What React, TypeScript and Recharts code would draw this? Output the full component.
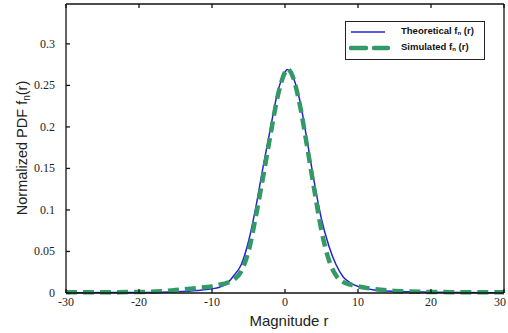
import React from 'react';
import { LineChart, Line, XAxis, YAxis } from 'recharts';

// magnitude r samples and the two PDF curves
const R = [-30, -25, -20, -17, -15, -12, -10, -9, -8, -7, -6, -5, -4, -3, -2, -1, 0, 0.3, 1, 2, 3, 4, 5, 6, 7, 8, 9, 10, 12, 15, 20, 25, 30];
const THEORETICAL = [0.0004, 0.0005, 0.0007, 0.001, 0.0015, 0.003, 0.005, 0.007, 0.011, 0.021, 0.034, 0.062, 0.103, 0.152, 0.198, 0.242, 0.266, 0.269, 0.262, 0.233, 0.185, 0.134, 0.089, 0.057, 0.034, 0.019, 0.012, 0.008, 0.004, 0.002, 0.001, 0.0005, 0.0004];
const SIMULATED = [0.001, 0.001, 0.0012, 0.002, 0.0035, 0.006, 0.008, 0.010, 0.012, 0.016, 0.026, 0.05, 0.092, 0.140, 0.190, 0.237, 0.266, 0.27, 0.262, 0.228, 0.178, 0.125, 0.075, 0.040, 0.021, 0.013, 0.010, 0.008, 0.005, 0.0025, 0.0012, 0.001, 0.001];

const X_TICKS = [-30, -20, -10, 0, 10, 20, 30];
const Y_TICKS = [0, 0.05, 0.1, 0.15, 0.2, 0.25, 0.3];

const BLUE = '#2323d8';
const GREEN = '#339966';

const data = R.map((r, i) => ({ r, theo: THEORETICAL[i], sim: SIMULATED[i], frame: null }));

const SERIF = '"Liberation Serif", "Times New Roman", serif';
const SANS = '"Liberation Sans", Arial, sans-serif';

const XTick = (props: any) => {
  const { x, y, payload } = props;
  return (
    <text x={x} y={y} dy={9} textAnchor="middle" fontFamily={SERIF} fontSize={12} fill="#222">
      {payload.value}
    </text>
  );
};

const YTick = (props: any) => {
  const { x, y, payload } = props;
  return (
    <text x={x} y={y} dy={4} textAnchor="end" fontFamily={SERIF} fontSize={12} fill="#222">
      {payload.value}
    </text>
  );
};

const noLabel = () => <g />;

const sub = { fontSize: 6, verticalAlign: 'baseline', position: 'relative' as const, top: 1 };

const LegendBox = () => (
  <div
    style={{
      position: 'absolute',
      left: 345,
      top: 21,
      width: 140,
      height: 39,
      border: '1px solid #222',
      background: '#fff',
      fontFamily: SANS,
      fontWeight: 700,
      fontSize: 9.5,
      color: '#111',
      boxSizing: 'border-box',
    }}
  >
    <svg width={42} height={37} style={{ position: 'absolute', left: 3, top: 0 }}>
      <line x1={2} x2={36} y1={10} y2={10} stroke={BLUE} strokeWidth={1.6} />
      <line x1={2} x2={39} y1={26} y2={26} stroke={GREEN} strokeWidth={4.5} strokeDasharray="15 8" strokeLinecap="round" />
    </svg>
    <div style={{ position: 'absolute', left: 55, top: 3, whiteSpace: 'nowrap' }}>
      Theoretical f<sub style={sub}>n</sub> (r)
    </div>
    <div style={{ position: 'absolute', left: 55, top: 19, whiteSpace: 'nowrap' }}>
      Simulated f<sub style={sub}>n</sub> (r)
    </div>
  </div>
);

const YTitle = () => (
  <text transform="translate(27,148) rotate(-90)" textAnchor="middle" fontFamily={SANS} fontSize={14.5} fill="#222">
    Normalized PDF f
    <tspan fontSize={10} dy={3}>n</tspan>
    <tspan dy={-3}>(r)</tspan>
  </text>
);

const XTitle = () => (
  <text x={289} y={326} textAnchor="middle" fontFamily={SANS} fontSize={15} fill="#222">
    Magnitude r
  </text>
);

export default function App() {
  return (
    <div style={{ position: 'absolute', left: 0, top: 0, width: 508, height: 333, background: '#fff' }}>
      <LineChart width={508} height={333} data={data} margin={{ top: 3, right: 3, bottom: 0, left: 0 }}>
        <XAxis
          xAxisId="bottom"
          dataKey="r"
          type="number"
          domain={[-30, 30]}
          ticks={X_TICKS}
          height={40}
          stroke="#111"
          strokeWidth={1.3}
          tickSize={-4}
          tickMargin={8}
          tick={XTick}
          label={{ content: XTitle }}
        />
        <XAxis
          xAxisId="top"
          dataKey="r"
          type="number"
          orientation="top"
          domain={[-30, 30]}
          ticks={X_TICKS}
          height={1}
          stroke="#111"
          strokeWidth={1.3}
          tickSize={-4}
          tick={noLabel}
        />
        <YAxis
          yAxisId="left"
          type="number"
          domain={[0, 0.348]}
          ticks={Y_TICKS}
          width={66}
          stroke="#111"
          strokeWidth={1.3}
          tickSize={-4}
          tickMargin={15}
          tick={YTick}
          label={{ content: YTitle }}
        />
        <YAxis
          yAxisId="right"
          orientation="right"
          type="number"
          domain={[0, 0.348]}
          ticks={Y_TICKS}
          width={1}
          stroke="#111"
          strokeWidth={1.3}
          tickSize={-4}
          tick={noLabel}
        />
        <Line
          xAxisId="top"
          yAxisId="right"
          dataKey="frame"
          stroke="none"
          dot={false}
          legendType="none"
          isAnimationActive={false}
        />
        <Line
          xAxisId="bottom"
          yAxisId="left"
          type="monotone"
          dataKey="theo"
          stroke={BLUE}
          strokeWidth={1.5}
          dot={false}
          isAnimationActive={false}
        />
        <Line
          xAxisId="bottom"
          yAxisId="left"
          type="monotone"
          dataKey="sim"
          stroke={GREEN}
          strokeWidth={4.5}
          strokeDasharray="11 6"
          dot={false}
          isAnimationActive={false}
        />
      </LineChart>
      <LegendBox />
    </div>
  );
}
